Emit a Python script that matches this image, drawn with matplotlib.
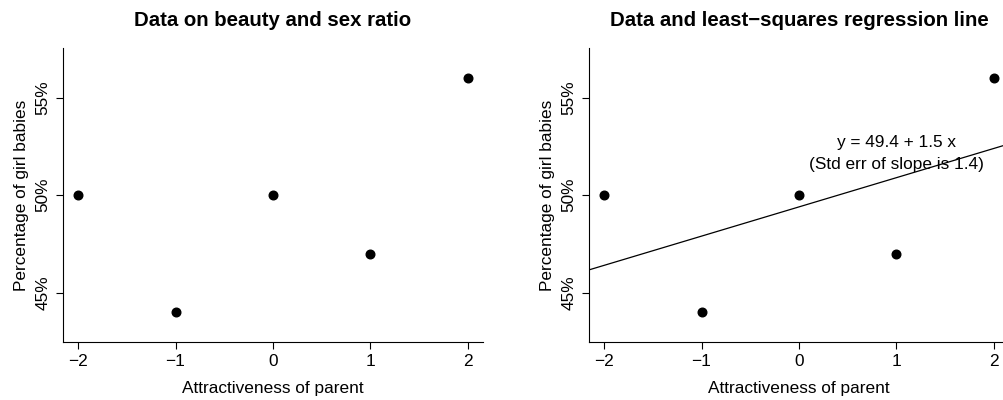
import matplotlib
matplotlib.use("Agg")
import matplotlib.pyplot as plt
import numpy as np

plt.rcParams['font.family'] = ['Liberation Sans', 'DejaVu Sans']

# attractiveness score and percent of girl babies
attract = [-2, -1, 0, 1, 2]
pct_girls = [50, 44, 50, 47, 56]
x_ticks = [-2, -1, 0, 1, 2]
x_tick_labels = ['\u22122', '\u22121', '0', '1', '2']
y_ticks = [45, 50, 55]
y_tick_labels = ['45%', '50%', '55%']
titles = ['Data on beauty and sex ratio', 'Data and least\u2212squares regression line']

# least squares fit
b, a = np.polyfit(attract, pct_girls, 1)

fig = plt.figure(figsize=(10.04, 4), dpi=100)
W, H = 1004.0, 400.0
lefts = [63, 589]
fs = 12.4
axes = []
for left, title in zip(lefts, titles):
    ax = fig.add_axes([left / W, 1 - 342 / H, 420 / W, 294 / H])
    ax.plot(attract, pct_girls, 'o', color='black', ms=6.2)
    ax.set_xlim(-2.154, 2.154)
    ax.set_ylim(42.47, 57.55)
    ax.spines['top'].set_visible(False)
    ax.spines['right'].set_visible(False)
    for s in ['left', 'bottom']:
        ax.spines[s].set_linewidth(0.8)
    ax.set_xticks(x_ticks)
    ax.set_xticklabels(x_tick_labels, fontsize=fs)
    ax.set_yticks(y_ticks)
    ax.set_yticklabels(y_tick_labels, fontsize=fs, rotation=90, va='center')
    ax.tick_params(length=5, width=0.8, pad=4)
    ax.set_xlabel('Attractiveness of parent', fontsize=fs, labelpad=8.5)
    ax.set_ylabel('Percentage of girl babies', fontsize=fs, labelpad=5)
    ax.set_title(title, fontsize=14.7, fontweight='bold', pad=16)
    axes.append(ax)

ax = axes[1]
xs = np.array([-3, 3])
ax.plot(xs, a + b * xs, color='black', lw=0.9)
ax.text(1.0, 52.7, 'y = %.1f + %.1f x' % (a, b), ha='center', va='center', fontsize=fs)
ax.text(1.0, 51.6, '(Std err of slope is 1.4)', ha='center', va='center', fontsize=fs)

fig.savefig('out.png', dpi=100)
